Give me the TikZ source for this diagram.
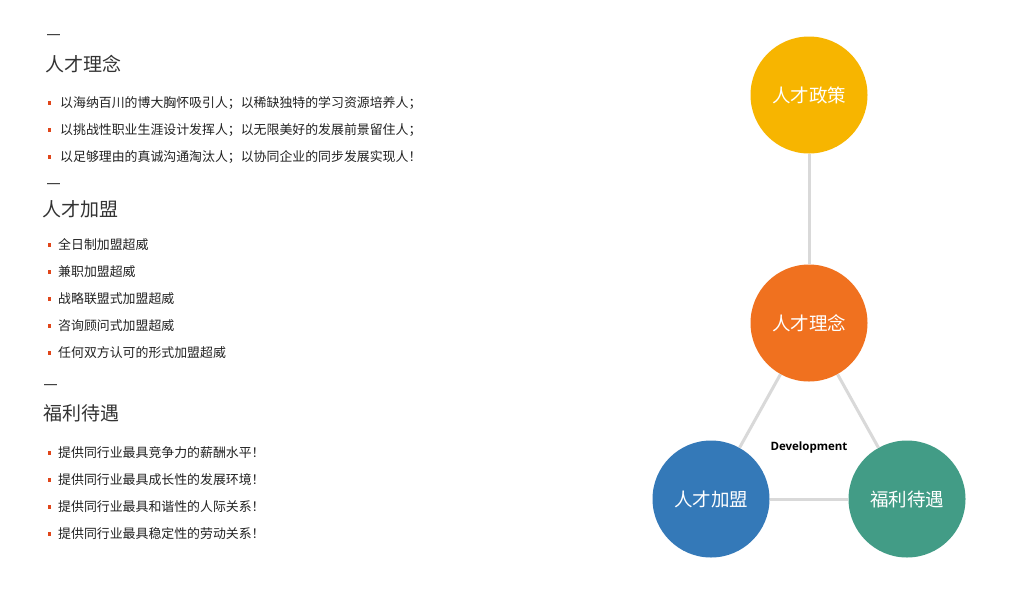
\documentclass[tikz,border=0pt]{standalone}
\usepackage{fontspec}
\setmainfont{Noto Sans CJK SC}
\newfontfamily\devfont{Open Sans}
\newfontfamily\dashfont{Liberation Sans}
\definecolor{cgold}{HTML}{F7B500}
\definecolor{corange}{HTML}{F0711F}
\definecolor{cblue}{HTML}{3479B8}
\definecolor{cgreen}{HTML}{429C86}
\definecolor{cline}{HTML}{D9D9D9}
\definecolor{cbullet}{HTML}{E0461A}
\definecolor{ctext}{HTML}{222222}
\definecolor{chead}{HTML}{333333}
\tikzset{
  bubble/.style={circle, minimum size=117pt, inner sep=0pt, text=white, font=\fontsize{18.5}{22}\selectfont},
  link/.style={draw=cline, line width=3pt},
  heading/.style={anchor=west, inner sep=0pt, text=chead, font=\fontsize{19}{22}\selectfont},
  dashmark/.style={anchor=west, inner sep=0pt, text=black, font=\dashfont\fontsize{13}{14}\selectfont},
  itemtext/.style={anchor=west, inner sep=0pt, text=ctext, font=\fontsize{12.9}{15}\selectfont},
  bulletsq/.style={fill=cbullet, minimum size=3.5pt, inner sep=0pt}
}
\begin{document}
\begin{tikzpicture}[x=1pt,y=-1pt]
\useasboundingbox[fill=white] (0,0) rectangle (1017,590);
% circles
\node[bubble, fill=cgold] (policy) at (809,95) {人才政策};
\node[bubble, fill=corange] (idea) at (809,323) {人才理念};
\node[bubble, fill=cblue] (join) at (711,499) {人才加盟};
\node[bubble, fill=cgreen] (welfare) at (907,499) {福利待遇};
\node[font=\devfont\bfseries\fontsize{11.5}{13}\selectfont, text=black] (dev) at (809,448) {Development};
% connectors
\draw[link] (policy) -- (idea);
\draw[link] (idea) -- (join);
\draw[link] (idea) -- (welfare);
\draw[link] (join) -- (welfare);
% section 1
\node[dashmark] (d1) at (47,37) {—};
\node[heading] (h1) at (45,64) {人才理念};
\foreach \y/\t [count=\i] in {103/{以海纳百川的博大胸怀吸引人；以稀缺独特的学习资源培养人；},130/{以挑战性职业生涯设计发挥人；以无限美好的发展前景留住人；},157/{以足够理由的真诚沟通淘汰人；以协同企业的同步发展实现人！}}{
  \node[bulletsq] (b1\i) at (49.5,\y) {};
  \node[itemtext] (t1\i) at (60,\y) {\t};
}
% section 2
\node[dashmark] (d2) at (47,186) {—};
\node[heading] (h2) at (42,209) {人才加盟};
\foreach \y/\t [count=\i] in {245/{全日制加盟超威},272/{兼职加盟超威},299/{战略联盟式加盟超威},326/{咨询顾问式加盟超威},353/{任何双方认可的形式加盟超威}}{
  \node[bulletsq] (b2\i) at (49.5,\y) {};
  \node[itemtext] (t2\i) at (58,\y) {\t};
}
% section 3
\node[dashmark] (d3) at (44,387) {—};
\node[heading] (h3) at (43,413) {福利待遇};
\foreach \y/\t [count=\i] in {453/{提供同行业最具竞争力的薪酬水平！},480/{提供同行业最具成长性的发展环境！},507/{提供同行业最具和谐性的人际关系！},534/{提供同行业最具稳定性的劳动关系！}}{
  \node[bulletsq] (b3\i) at (49.5,\y) {};
  \node[itemtext] (t3\i) at (58,\y) {\t};
}
\end{tikzpicture}
\end{document}
